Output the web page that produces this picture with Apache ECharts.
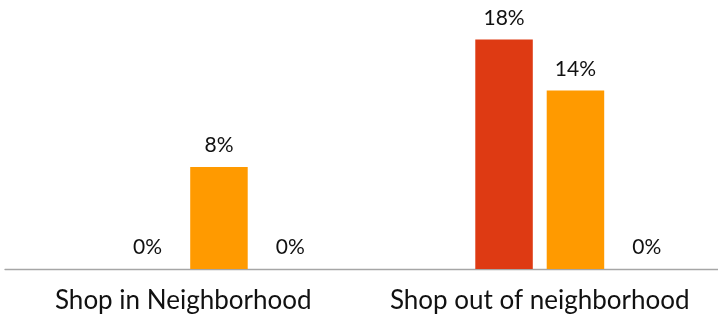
<!DOCTYPE html>
<html>
<head>
<meta charset="utf-8">
<script src="https://cdn.jsdelivr.net/npm/echarts@6/dist/echarts.min.js"></script>
<style>
  html, body { margin: 0; padding: 0; background: #fff; }
  #chart { width: 718px; height: 322px; }
</style>
</head>
<body>
<div id="chart"></div>
<script>
// Categories and series values (percent)
const categories = ['Shop in Neighborhood', 'Shop out of neighborhood'];
const seriesBlank = [null, null];
const seriesRed = [0, 18];
const seriesOrange = [8, 14];
const seriesLast = [0, 0];

const colors = ['#7f7f7f', '#DE3A13', '#FF9A00', '#A5A5A5'];
const seriesData = [seriesBlank, seriesRed, seriesOrange, seriesLast];

const chart = echarts.init(document.getElementById('chart'), null, { renderer: 'canvas' });

const labelStyle = {
  show: true,
  position: 'top',
  distance: 11,
  formatter: p => p.value + '%',
  fontFamily: 'Lato',
  fontSize: 21,
  color: '#111'
};

chart.setOption({
  animation: false,
  grid: { left: 5, width: 718, top: 14, height: 255, containLabel: false },
  xAxis: {
    type: 'category',
    data: categories,
    axisLine: { lineStyle: { color: '#A6A6A6', width: 1.3 } },
    axisTick: { show: false },
    axisLabel: {
      fontFamily: 'Lato',
      fontSize: 26,
      color: '#111',
      margin: 19,
      interval: 0
    }
  },
  yAxis: {
    type: 'value',
    min: 0,
    max: 20,
    show: false,
    splitLine: { show: false }
  },
  series: seriesData.map((d, i) => ({
    type: 'bar',
    data: d,
    barWidth: 57.5,
    barGap: '24.2%',
    itemStyle: { color: colors[i] },
    label: labelStyle
  }))
});
</script>
</body>
</html>
